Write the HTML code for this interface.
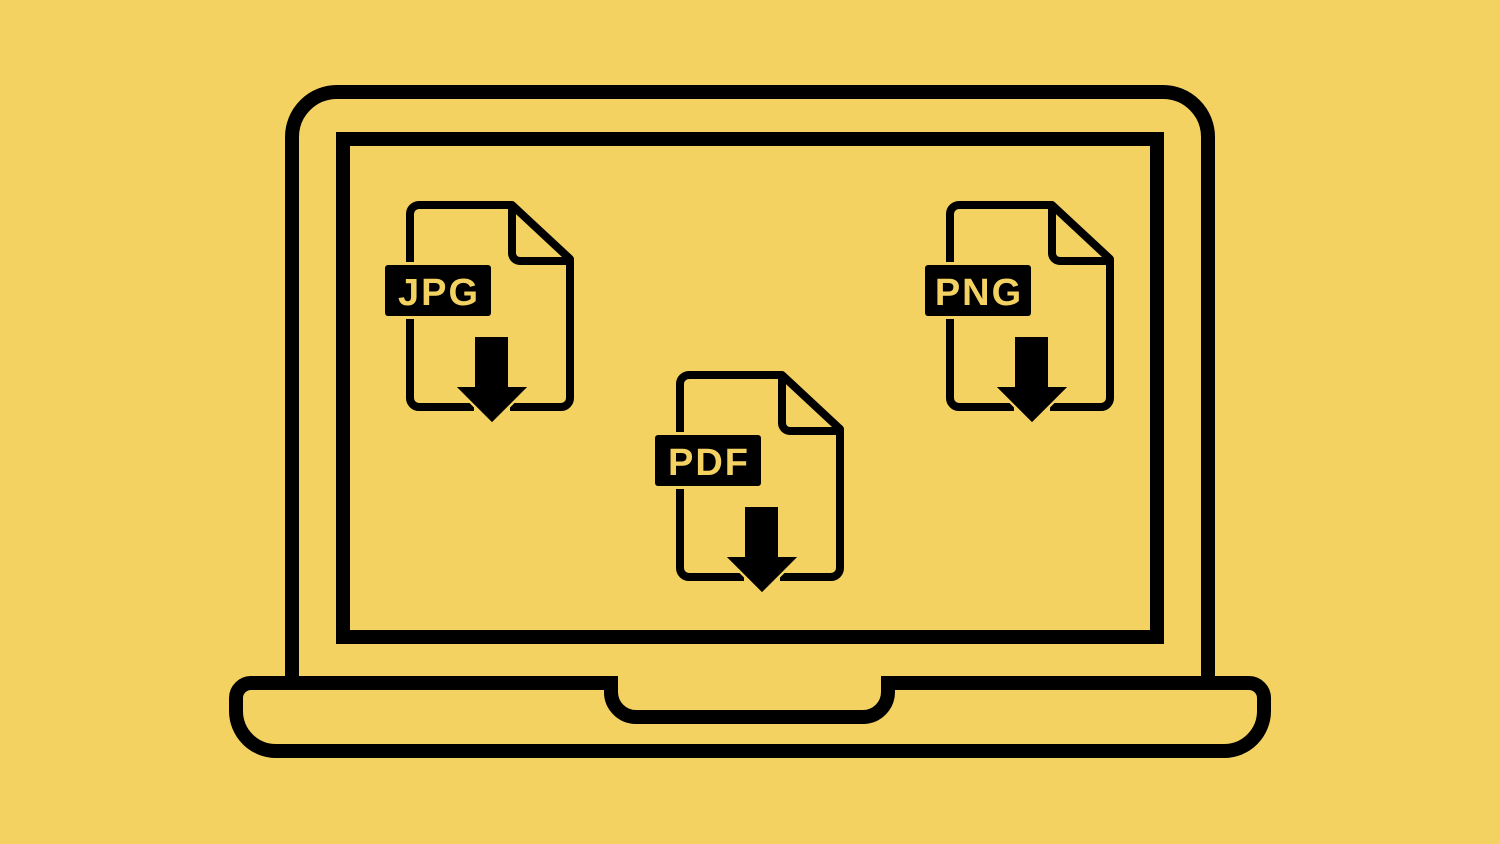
<!DOCTYPE html>
<html><head><meta charset="utf-8"><style>
html,body{margin:0;padding:0;background:#F3D262;}
svg{display:block}
</style></head><body>
<svg width="1500" height="844" viewBox="0 0 1500 844" xmlns="http://www.w3.org/2000/svg">
<rect width="1500" height="844" fill="#F3D262"/>
<g fill="none" stroke="#000" stroke-width="14">
  <path d="M292 683 V137 A45 45 0 0 1 337 92 H1163 A45 45 0 0 1 1208 137 V683"/>
  <rect x="343" y="139" width="814" height="498"/>
  <path d="M251 683 H611 V692 A25 25 0 0 0 636 717 H863 A25 25 0 0 0 888 692 V683 H1249 A15 15 0 0 1 1264 698 V711 A40 40 0 0 1 1224 751 H276 A40 40 0 0 1 236 711 V698 A15 15 0 0 1 251 683 Z"/>
</g>
<defs>
<g id="file">
  <g fill="none" stroke="#000" stroke-width="8" stroke-linejoin="round">
    <path d="M410 265 V214 A9 9 0 0 1 419 205 H512 L570 259 V398 A9 9 0 0 1 561 407 H510 M474 407 H419 A9 9 0 0 1 410 398 V316"/>
    <path d="M512 205 V253 A8 8 0 0 0 520 261 H570"/>
  </g>
  <rect x="382" y="262" width="112" height="57" rx="4" fill="#F3D262"/>
  <rect x="385" y="265" width="106" height="51" rx="3" fill="#000"/>
  <path d="M475 337 H508 V387 H527 L492 422 L457 387 H475 Z" fill="#000" stroke="#F3D262" stroke-width="5" paint-order="stroke"/>
  <path d="M475 337 H508 V387 H527 L492 422 L457 387 H475 Z" fill="#000"/>
</g>
</defs>
<use href="#file"/>
<use href="#file" transform="translate(540,0)"/>
<use href="#file" transform="translate(270,170)"/>
<g font-family="Liberation Sans, sans-serif" font-weight="bold" font-size="38" fill="#F3D262" text-anchor="middle" letter-spacing="2">
  <text x="439" y="305">JPG</text>
  <text x="979" y="305">PNG</text>
  <text x="709" y="475">PDF</text>
</g>
</svg>
</body></html>
